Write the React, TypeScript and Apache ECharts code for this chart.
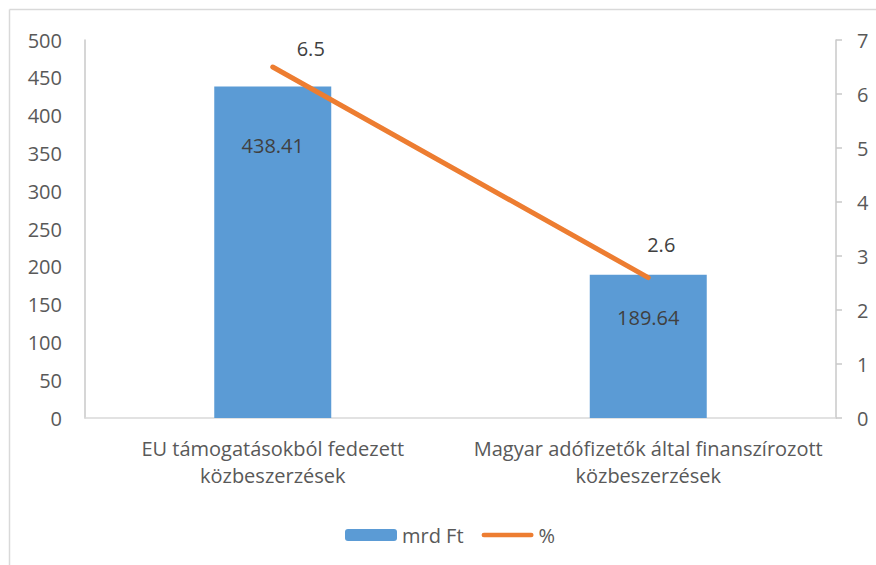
import React, { useEffect, useRef } from "react";
import * as echarts from "echarts";

const categories = [
  "EU támogatásokból fedezett\nközbeszerzések",
  "Magyar adófizetők által finanszírozott\nközbeszerzések",
];
const amountValues = [438.41, 189.64];
const percentValues = [6.5, 2.6];
const seriesNames = ["mrd Ft", "%"];

const barLabelDistance = [49, 33];
const lineLabelOffset: [number, number][] = [
  [38, -3],
  [13, -17],
];

const FONT = "Open Sans";
const TEXT = "#595959";
const FS = 20;

export default function App() {
  const ref = useRef<HTMLDivElement>(null);
  useEffect(() => {
    if (!ref.current) return;
    const chart = echarts.init(ref.current, null, { renderer: "svg" });
    chart.setOption({
      animation: false,
      backgroundColor: "#ffffff",
      textStyle: { fontFamily: FONT, color: TEXT },
      grid: { left: 85, right: 40, top: 40, bottom: 147 },
      graphic: [
        {
          type: "line",
          shape: { x1: 9.5, y1: 9.5, x2: 876, y2: 9.5 },
          style: { stroke: "#D9D9D9", lineWidth: 1.5 },
        },
        {
          type: "line",
          shape: { x1: 9.5, y1: 9.5, x2: 9.5, y2: 565 },
          style: { stroke: "#D9D9D9", lineWidth: 1.5 },
        },
      ],
      legend: {
        left: 340,
        top: 520,
        itemWidth: 52,
        itemHeight: 12,
        itemGap: 18,
        textStyle: { fontFamily: FONT, fontSize: FS, color: TEXT },
        data: [
          { name: seriesNames[0] },
          {
            name: seriesNames[1],
            icon: "path://M2.5,0H53.5A2.5,2.5,0,0,1,53.5,5H2.5A2.5,2.5,0,0,1,2.5,0Z",
            itemStyle: { color: "#ED7D31" },
          },
        ],
      },
      xAxis: {
        type: "category",
        data: categories,
        axisLine: { show: true, lineStyle: { color: "#D9D9D9", width: 1.5 } },
        axisTick: { show: false },
        axisLabel: {
          fontFamily: FONT,
          fontSize: FS,
          color: TEXT,
          margin: 17,
          lineHeight: 27,
          interval: 0,
        },
      },
      yAxis: [
        {
          type: "value",
          min: 0,
          max: 500,
          interval: 50,
          axisLine: { show: true, lineStyle: { color: "#C8C8C8", width: 1.5 } },
          axisTick: { show: false },
          splitLine: { show: false },
          axisLabel: { fontFamily: FONT, fontSize: FS, color: TEXT, margin: 23 },
        },
        {
          type: "value",
          position: "right",
          min: 0,
          max: 7,
          interval: 1,
          axisLine: { show: true, lineStyle: { color: "#C8C8C8", width: 1.5 } },
          axisTick: { show: true, length: 6, lineStyle: { color: "#C8C8C8", width: 1.5 } },
          splitLine: { show: false },
          axisLabel: { fontFamily: FONT, fontSize: FS, color: TEXT, margin: 21 },
        },
      ],
      series: [
        {
          name: seriesNames[0],
          type: "bar",
          barWidth: 117,
          itemStyle: { color: "#5B9BD5" },
          data: amountValues.map((v, i) => ({
            value: v,
            label: {
              show: true,
              position: "insideTop",
              distance: barLabelDistance[i],
              fontFamily: FONT,
              fontSize: FS,
              color: "#404040",
            },
          })),
        },
        {
          name: seriesNames[1],
          type: "line",
          yAxisIndex: 1,
          symbol: "circle",
          symbolSize: 2,
          showSymbol: true,
          lineStyle: { color: "#ED7D31", width: 5, cap: "round" },
          itemStyle: { color: "#ED7D31" },
          label: {
            show: true,
            position: "top",
            fontFamily: FONT,
            fontSize: FS,
            color: "#404040",
          },
          data: percentValues.map((v, i) => ({
            value: v,
            label: { offset: lineLabelOffset[i] },
          })),
        },
      ],
    });
    return () => chart.dispose();
  }, []);
  return (
    <div
      ref={ref}
      style={{ position: "absolute", left: 0, top: 0, width: 876, height: 565 }}
    />
  );
}
